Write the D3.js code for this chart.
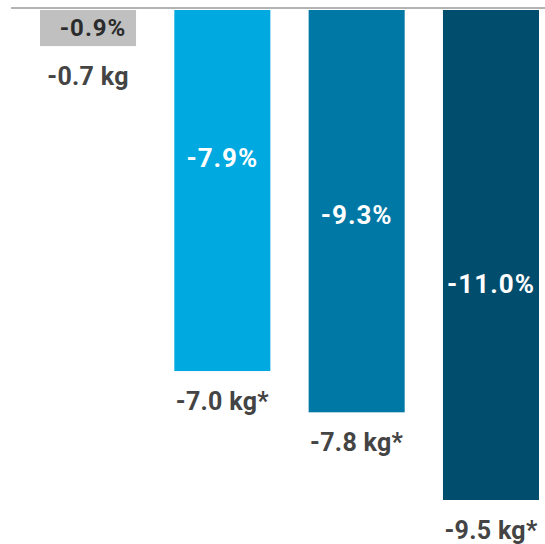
<!DOCTYPE html>
<html>
<head>
<meta charset="utf-8">
<script src="https://cdn.jsdelivr.net/npm/d3@7"></script>
<style>
  html, body { margin: 0; padding: 0; background: #fff; }
  svg { display: block; }
  text { font-family: Roboto, "Liberation Sans", sans-serif; font-weight: 700; }
</style>
</head>
<body>
<svg id="chart" width="545" height="544"></svg>
<script>
// Weight change per group: kilograms drive the bar length, percent is printed on the bar
const groups = ["g1", "g2", "g3", "g4"];
const kgChange = [-0.7, -7.0, -7.8, -9.5];
const pctChange = [-0.9, -7.9, -9.3, -11.0];
const significant = [false, true, true, true];
const barColors = ["#c0c0c0", "#00a9e0", "#0078a5", "#004d6e"];

const W = 545, H = 544;
const barTop = 10;
const svg = d3.select("#chart");

const x = d3.scaleBand()
  .domain(groups)
  .range([40, 539])
  .paddingInner(0.285)
  .paddingOuter(0);

const y = d3.scaleLinear()
  .domain([0, -9.5])
  .range([barTop, 500]);

// percent labels sit part-way down each bar
const pctY = d3.scaleLinear()
  .domain([-7.9, -11.0])
  .range([158, 284]);

const data = groups.map((g, i) => ({
  g, kg: kgChange[i], pct: pctChange[i], sig: significant[i], color: barColors[i], i
}));

// baseline
svg.append("line")
  .attr("x1", 11).attr("x2", W)
  .attr("y1", 8).attr("y2", 8)
  .attr("stroke", "#9a9a9a")
  .attr("stroke-width", 1.5);

svg.selectAll("rect.bar")
  .data(data)
  .join("rect")
  .attr("class", "bar")
  .attr("x", d => x(d.g))
  .attr("y", y(0))
  .attr("width", x.bandwidth())
  .attr("height", d => y(d.kg) - y(0))
  .attr("fill", d => d.color);

const fmt = v => v.toFixed(1);

// percent labels
svg.selectAll("text.pct")
  .data(data)
  .join("text")
  .attr("class", "pct")
  .attr("x", d => d.i === 0 ? x(d.g) + x.bandwidth() / 2 + 5 : x(d.g) + x.bandwidth() / 2)
  .attr("y", d => d.i === 0 ? (y(0) + y(d.kg)) / 2 : pctY(d.pct))
  .attr("dy", "0.35em")
  .attr("text-anchor", "middle")
  .attr("font-size", d => d.i === 0 ? 24 : 26)
  .attr("letter-spacing", 1)
  .attr("fill", d => d.i === 0 ? "#2b2b2b" : "#ffffff")
  .text(d => fmt(d.pct) + "%");

// kilogram labels under the bars
svg.selectAll("text.kg")
  .data(data)
  .join("text")
  .attr("class", "kg")
  .attr("x", d => x(d.g) + x.bandwidth() / 2)
  .attr("y", d => y(d.kg) + 30)
  .attr("dy", "0.35em")
  .attr("text-anchor", "middle")
  .attr("font-size", 25)
  .attr("letter-spacing", 0.3)
  .attr("fill", "#444444")
  .text(d => fmt(d.kg) + " kg" + (d.sig ? "*" : ""));
</script>
</body>
</html>
